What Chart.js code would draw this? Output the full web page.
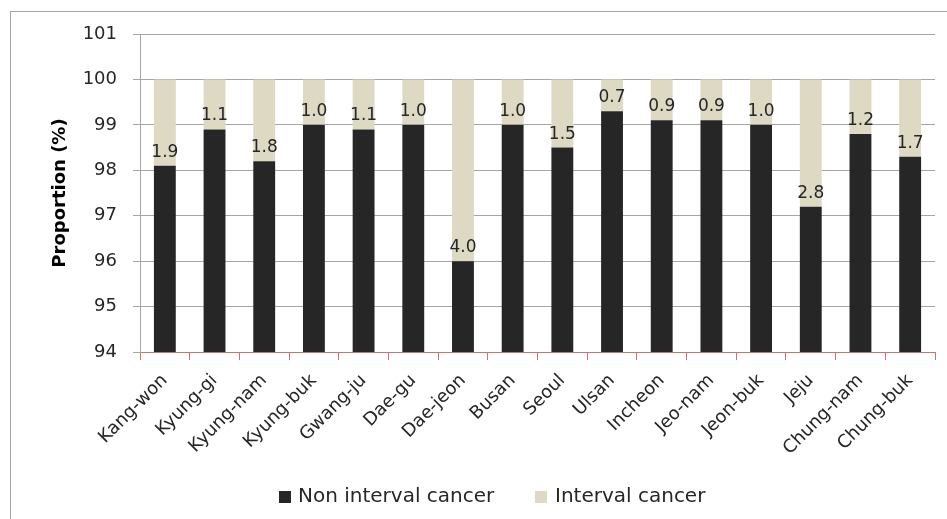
<!DOCTYPE html>
<html>
<head>
<meta charset="utf-8">
<script src="https://cdn.jsdelivr.net/npm/chart.js@4.4.1/dist/chart.umd.min.js"></script>
<style>
    body { margin: 0; background: #fff; }
    #frame { position: absolute; left: 10px; top: 11px; width: 940px; height: 520px; border: 1px solid #a6a6a6; }
    #wrap { position: absolute; left: 0; top: 0; width: 947px; height: 519px; }
</style>
</head>
<body>
<div id="frame"></div>
<div id="wrap"><canvas id="bars"></canvas></div>
<script>
const regions = ['Kang-won', 'Kyung-gi', 'Kyung-nam', 'Kyung-buk', 'Gwang-ju', 'Dae-gu', 'Dae-jeon', 'Busan',
    'Seoul', 'Ulsan', 'Incheon', 'Jeo-nam', 'Jeon-buk', 'Jeju', 'Chung-nam', 'Chung-buk'];
const nonInterval = [98.1, 98.9, 98.2, 99.0, 98.9, 99.0, 96.0, 99.0, 98.5, 99.3, 99.1, 99.1, 99.0, 97.2, 98.8, 98.3];
const interval = [1.9, 1.1, 1.8, 1.0, 1.1, 1.0, 4.0, 1.0, 1.5, 0.7, 0.9, 0.9, 1.0, 2.8, 1.2, 1.7];
const yTicks = [94, 95, 96, 97, 98, 99, 100, 101];

const fontFamily = '"DejaVu Sans", "Noto Sans", sans-serif';

// value labels just above the dark segment
const intervalLabels = {
    id: 'intervalLabels',
    afterDatasetsDraw(chart) {
        const ctx = chart.ctx;
        const meta = chart.getDatasetMeta(1);
        ctx.save();
        ctx.font = '17px ' + fontFamily;
        ctx.fillStyle = '#262626';
        ctx.textAlign = 'center';
        ctx.textBaseline = 'alphabetic';
        meta.data.forEach((bar, i) => {
            ctx.fillText(interval[i].toFixed(1), bar.x, bar.base - 9);
        });
        ctx.restore();
    }
};

// legend drawn by hand so the spacing matches the original
const bottomLegend = {
    id: 'bottomLegend',
    afterDraw(chart) {
        const ctx = chart.ctx;
        const spots = [[279, 298], [535, 555]];
        ctx.save();
        ctx.font = '20px ' + fontFamily;
        ctx.textBaseline = 'middle';
        chart.data.datasets.forEach((ds, i) => {
            ctx.fillStyle = ds.backgroundColor;
            ctx.fillRect(spots[i][0], 491, 12, 12);
            ctx.fillStyle = '#262626';
            ctx.fillText(ds.label, spots[i][1], 497);
        });
        ctx.restore();
    }
};

new Chart(document.getElementById('bars'), {
    type: 'bar',
    data: {
        labels: regions,
        datasets: [{
            label: 'Non interval cancer',
            data: nonInterval.map(v => [94, v]),
            backgroundColor: '#262626',
            barPercentage: 0.44,
            categoryPercentage: 1
        }, {
            label: 'Interval cancer',
            data: nonInterval.map((v, i) => [v, v + interval[i]]),
            backgroundColor: '#ddd9c3',
            barPercentage: 0.44,
            categoryPercentage: 1
        }]
    },
    options: {
        responsive: true,
        maintainAspectRatio: false,
        animation: false,
        layout: { padding: { left: 46, right: 12, top: 34, bottom: 40 } },
        scales: {
            x: {
                stacked: true,
                grid: { drawOnChartArea: false, drawTicks: true, tickLength: 8, color: '#d07070', offset: true },
                border: { color: '#d07070' },
                ticks: { color: '#262626', font: { family: fontFamily, size: 18 }, maxRotation: 45, minRotation: 45, padding: 10 },
                afterFit(scale) { scale.height = 127; }
            },
            y: {
                min: 94,
                max: 101,
                afterBuildTicks(scale) { scale.ticks = yTicks.map(v => ({ value: v })); },
                grid: { color: '#a6a6a6', tickLength: 7 },
                border: { color: '#a6a6a6' },
                ticks: { color: '#262626', font: { family: fontFamily, size: 18 }, padding: 16 },
                title: { display: true, text: 'Proportion (%)', color: '#000', font: { family: fontFamily, size: 18, weight: 'bold' }, padding: { bottom: 6 } },
                afterFit(scale) { scale.width = 94; }
            }
        },
        plugins: {
            legend: { display: false },
            tooltip: { enabled: false }
        }
    },
    plugins: [intervalLabels, bottomLegend]
});
</script>
</body>
</html>
